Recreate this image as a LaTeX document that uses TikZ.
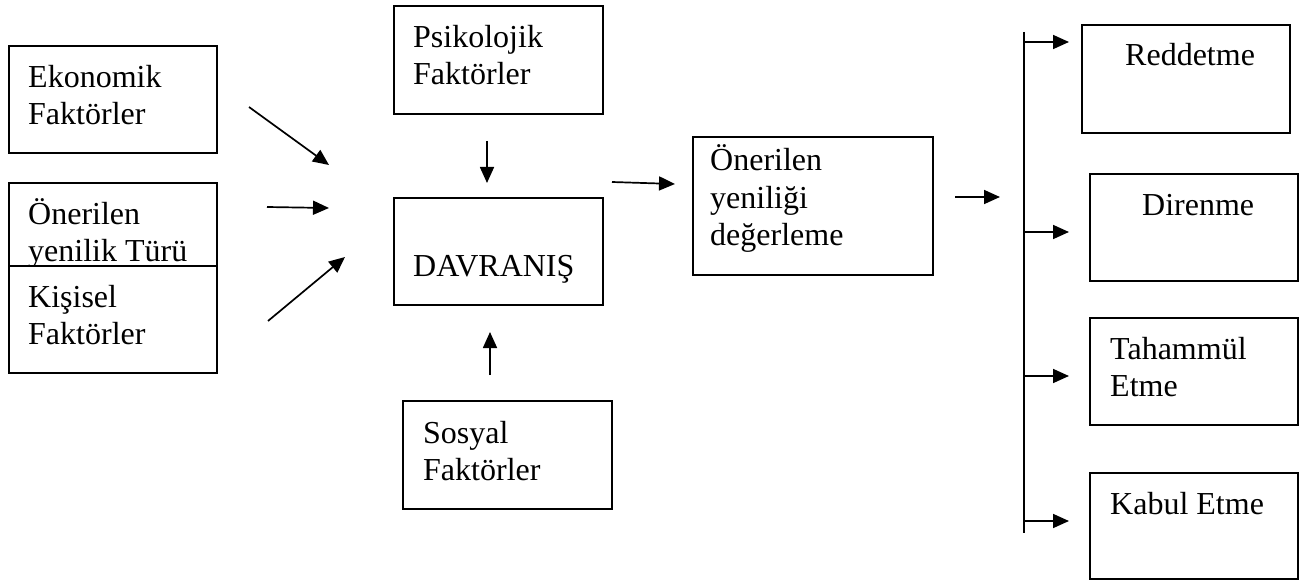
\documentclass[tikz,border=0pt]{standalone}
\usepackage{fontspec}
\setmainfont{Liberation Serif}
\usetikzlibrary{arrows.meta}
\begin{document}
\begin{tikzpicture}[x=1pt,y=-1pt,
  box/.style={draw, line width=1.8pt, rectangle, inner sep=0pt, anchor=north west},
  lbl/.style={inner sep=0pt, anchor=north west, align=left, font=\fontsize{32}{37.5}\selectfont},
  conn/.style={line width=1.7pt, -{Triangle[length=16pt,width=14pt]}},
  rail/.style={line width=1.7pt}]
\useasboundingbox (0,0) rectangle (1309,580);

% left column of factors
\node[box, minimum width=208pt, minimum height=107pt] (eko) at (8,45) {};
\node[lbl] (ekoT) at (28,61) {\strut Ekonomik\\Faktörler};
\node[box, minimum width=208pt, minimum height=110pt] (tur) at (8,182) {};
\node[lbl] (turT) at (28,198) {\strut Önerilen\\yenilik Türü};
\node[box, fill=white, minimum width=208pt, minimum height=107pt] (kis) at (8,265) {};
\node[lbl] (kisT) at (28,281) {\strut Kişisel\\Faktörler};

% central column
\node[box, minimum width=209pt, minimum height=108pt] (psi) at (393,5) {};
\node[lbl] (psiT) at (413,21) {\strut Psikolojik\\Faktörler};
\node[box, minimum width=209pt, minimum height=107pt] (dav) at (393,197) {};
\node[lbl] (davT) at (413,250) {\strut DAVRANIŞ};
\node[box, minimum width=209pt, minimum height=108pt] (sos) at (402,400) {};
\node[lbl] (sosT) at (423,417) {\strut Sosyal\\Faktörler};

% evaluation
\node[box, minimum width=240pt, minimum height=138pt] (deg) at (692,136) {};
\node[lbl] (degT) at (710,144.5) {\strut Önerilen\\yeniliği\\değerleme};

% outcomes
\node[box, minimum width=208pt, minimum height=108pt] (red) at (1081,24) {};
\node[lbl] (redT) at (1125,39) {\strut Reddetme};
\node[box, minimum width=208pt, minimum height=107pt] (dir) at (1089,173) {};
\node[lbl] (dirT) at (1142,189) {\strut Direnme};
\node[box, minimum width=208pt, minimum height=107pt] (tah) at (1089,317) {};
\node[lbl] (tahT) at (1110,333) {\strut Tahammül\\Etme};
\node[box, minimum width=208pt, minimum height=106pt] (kab) at (1089,472) {};
\node[lbl] (kabT) at (1110,488) {\strut Kabul Etme};

% arrow end points
\coordinate (a1s) at (249,107); \coordinate (a1e) at (329,165);
\coordinate (a2s) at (267,207); \coordinate (a2e) at (329,208);
\coordinate (a3s) at (268,321); \coordinate (a3e) at (345,257);
\coordinate (a4s) at (487,141); \coordinate (a4e) at (487,183);
\coordinate (a5s) at (490,375); \coordinate (a5e) at (490,332);
\coordinate (a6s) at (612,182); \coordinate (a6e) at (675,184);
\coordinate (a7s) at (955,197); \coordinate (a7e) at (1000,197);
\coordinate (vtop) at (1024,32); \coordinate (vbot) at (1024,533);
\coordinate (b1) at (1024,42);  \coordinate (e1) at (1069,42);
\coordinate (b2) at (1024,232); \coordinate (e2) at (1069,232);
\coordinate (b3) at (1024,376); \coordinate (e3) at (1069,376);
\coordinate (b4) at (1024,521); \coordinate (e4) at (1069,521);

\draw[conn] (a1s) -- (a1e);
\draw[conn] (a2s) -- (a2e);
\draw[conn] (a3s) -- (a3e);
\draw[conn] (a4s) -- (a4e);
\draw[conn] (a5s) -- (a5e);
\draw[conn] (a6s) -- (a6e);
\draw[conn] (a7s) -- (a7e);
\draw[rail] (vtop) -- (vbot);
\draw[conn] (b1) -- (e1);
\draw[conn] (b2) -- (e2);
\draw[conn] (b3) -- (e3);
\draw[conn] (b4) -- (e4);
\end{tikzpicture}
\end{document}
